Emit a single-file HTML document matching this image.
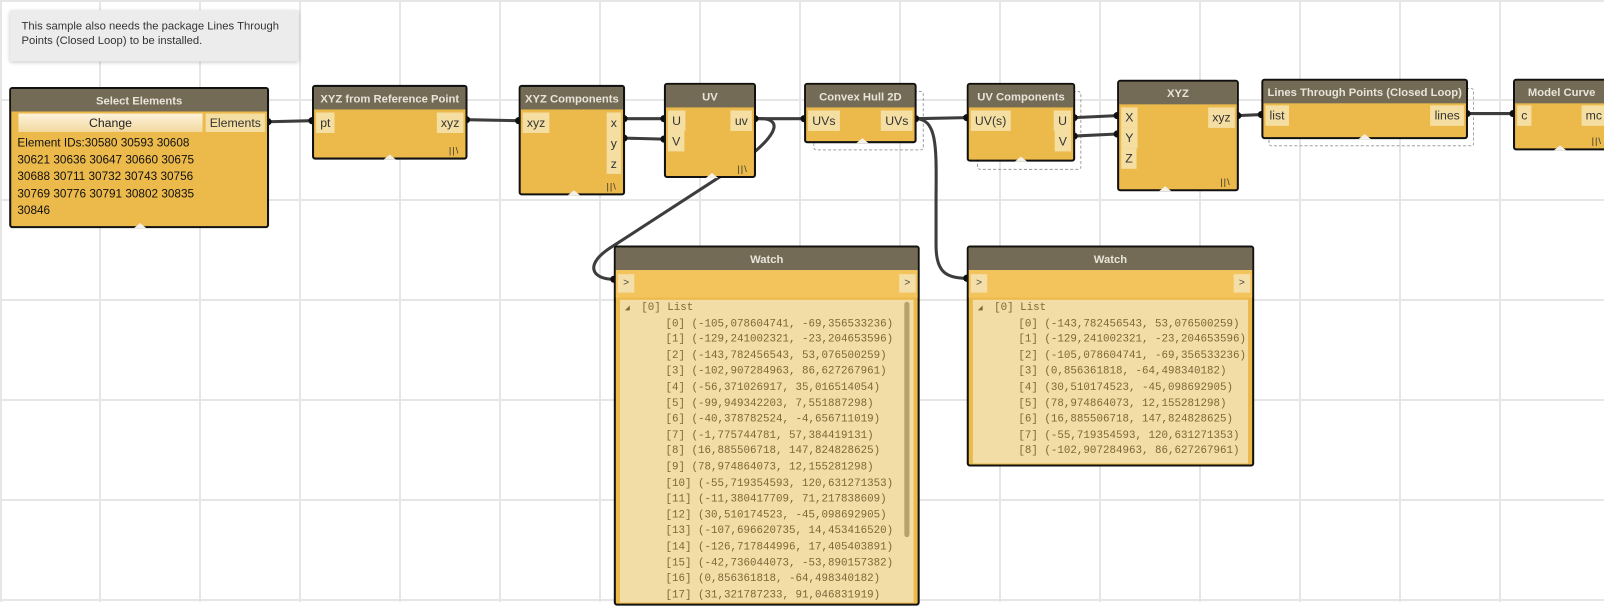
<!DOCTYPE html>
<html><head><meta charset="utf-8">
<style>
html,body{margin:0;padding:0;width:1604px;height:602px;overflow:hidden;background:#fff;}
#grid{position:absolute;left:0;top:0;}
#c{position:absolute;left:0;top:0;width:1568px;height:588px;transform:scale(1.023);transform-origin:0 0;font-family:"Liberation Sans","DejaVu Sans",sans-serif;}
.n{position:absolute;background:#ecb94b;border:2px solid #111;border-radius:3px;box-sizing:border-box;}
.h{background:#746b56;color:#e8e4da;font-weight:bold;font-size:11px;text-align:center;height:20px;line-height:21px;white-space:nowrap;overflow:hidden;}
.p{position:absolute;background:#f5dea2;color:#333;font-size:12px;height:17px;line-height:17px;padding:0 4px;}
.tri{position:absolute;bottom:-2px;width:0;height:0;border-left:6px solid transparent;border-right:6px solid transparent;border-bottom:5px solid #f4f0e6;margin-left:-6px;}
.lac{position:absolute;right:6px;bottom:2px;font-size:9px;color:#333;letter-spacing:1px;}
.g{position:absolute;border:1.5px dashed #9a9a9a;border-radius:3px;box-sizing:border-box;}
.w{position:absolute;background:#ecb94b;border:2px solid #111;border-radius:3px;box-sizing:border-box;}
.wi{background:#f4c45c;height:27px;position:relative;}
.wb{position:absolute;background:#f4dfa8;color:#444;font-size:10px;width:16px;height:18px;line-height:18px;text-align:center;top:4px;}
.ls{position:absolute;background:#f3dda6;font-family:"Liberation Mono","DejaVu Sans Mono",monospace;font-size:10.6px;color:#7a6838;line-height:15.6px;white-space:pre;overflow:hidden;}
</style></head><body>
<svg id="grid" width="1604" height="602">
<g stroke="#e6e6e6" stroke-width="2">
<line x1="100" y1="0" x2="100" y2="602"/><line x1="200" y1="0" x2="200" y2="602"/><line x1="300" y1="0" x2="300" y2="602"/><line x1="400" y1="0" x2="400" y2="602"/><line x1="500" y1="0" x2="500" y2="602"/><line x1="600" y1="0" x2="600" y2="602"/><line x1="700" y1="0" x2="700" y2="602"/><line x1="800" y1="0" x2="800" y2="602"/><line x1="900" y1="0" x2="900" y2="602"/><line x1="1000" y1="0" x2="1000" y2="602"/><line x1="1100" y1="0" x2="1100" y2="602"/><line x1="1200" y1="0" x2="1200" y2="602"/><line x1="1300" y1="0" x2="1300" y2="602"/><line x1="1400" y1="0" x2="1400" y2="602"/><line x1="1500" y1="0" x2="1500" y2="602"/><line x1="1" y1="0" x2="1" y2="602"/>
<line x1="0" y1="100" x2="1604" y2="100"/><line x1="0" y1="200" x2="1604" y2="200"/><line x1="0" y1="300" x2="1604" y2="300"/><line x1="0" y1="400" x2="1604" y2="400"/><line x1="0" y1="500" x2="1604" y2="500"/><line x1="0" y1="600" x2="1604" y2="600"/><line x1="0" y1="1" x2="1604" y2="1"/>
</g></svg>
<div id="c">
<div style="position:absolute;left:10px;top:10px;width:282px;height:50px;background:#ececec;box-shadow:0 1px 4px rgba(0,0,0,0.25);font-size:11px;color:#333;padding:9px 0 0 11px;box-sizing:border-box;line-height:14px;white-space:nowrap;overflow:hidden;">This sample also needs the package Lines Through<br>Points (Closed Loop) to be installed.</div>

<div class="g" style="left:795px;top:89px;width:108px;height:58px"></div>
<div class="g" style="left:955px;top:89px;width:102px;height:77px"></div>
<div class="g" style="left:1240px;top:86px;width:201px;height:57px"></div>

<svg style="position:absolute;left:0;top:0" width="1568" height="588">
<g stroke="#3d3d3d" stroke-width="3" fill="none">
<path d="M262,119 L305,118"/>
<path d="M456,117 L507,118"/>
<path d="M610,116 L649,116"/>
<path d="M610,135 L649,136"/>
<path d="M738,116 L786,116"/>
<path d="M738,116 C770,114 762,135 705,172 L600,240 C570,258 578,273 600,273"/>
<path d="M895,116 L945,115"/>
<path d="M895,116 C918,116 915,150 915,200 L915,240 C915,266 925,272 945,272"/>
<path d="M1050,115 L1092,113"/>
<path d="M1050,133 L1092,131"/>
<path d="M1210,113 L1233,112"/>
<path d="M1434,111 L1479,111"/>
</g>
<g fill="#111">
<circle cx="262" cy="119" r="3.5"/><circle cx="305" cy="118" r="3.5"/><circle cx="456" cy="117" r="3.5"/><circle cx="507" cy="118" r="3.5"/>
<circle cx="610" cy="116" r="3.5"/><circle cx="610" cy="135" r="3.5"/><circle cx="649" cy="116" r="3.5"/><circle cx="649" cy="136" r="3.5"/>
<circle cx="738" cy="116" r="3.5"/><circle cx="786" cy="116" r="3.5"/><circle cx="895" cy="116" r="3.5"/><circle cx="945" cy="115" r="3.5"/>
<circle cx="1050" cy="115" r="3.5"/><circle cx="1050" cy="133" r="3.5"/><circle cx="1092" cy="113" r="3.5"/><circle cx="1092" cy="131" r="3.5"/>
<circle cx="1210" cy="113" r="3.5"/><circle cx="1233" cy="112" r="3.5"/><circle cx="1434" cy="111" r="3.5"/><circle cx="1479" cy="111" r="3.5"/>
<circle cx="600" cy="273" r="3.5"/><circle cx="945" cy="272" r="3.5"/>
</g></svg>

<div class="n" style="left:9px;top:85px;width:254px;height:138px">
<div class="h" style="height:22px;line-height:24px">Select Elements</div>
<div style="position:absolute;left:7px;top:24px;width:180px;height:18px;background:linear-gradient(#fdf3dc,#f2d9a0);font-size:12px;text-align:center;line-height:18px;color:#222">Change</div>
<div class="p" style="left:190px;top:24px;height:18px;line-height:18px">Elements</div>
<div style="position:absolute;left:6px;top:45px;font-size:11.5px;line-height:16.5px;color:#111;width:200px">Element IDs:30580 30593 30608 30621 30636 30647 30660 30675 30688 30711 30732 30743 30756 30769 30776 30791 30802 30835 30846</div>
<div class="tri" style="left:126px"></div>
</div>

<div class="n" style="left:305px;top:83px;width:152px;height:73px">
<div class="h" style="height:22px;line-height:24px">XYZ from Reference Point</div>
<div class="p" style="left:2px;top:25px;height:20px;line-height:20px">pt</div>
<div class="p" style="right:2px;top:25px;height:20px;line-height:20px">xyz</div>
<div class="lac">||\</div><div class="tri" style="left:74px"></div>
</div>

<div class="n" style="left:507px;top:83px;width:104px;height:108px">
<div class="h" style="height:22px;line-height:24px">XYZ Components</div>
<div class="p" style="left:2px;top:25px;height:20px;line-height:20px">xyz</div>
<div class="p" style="right:2px;top:25px;height:20px;line-height:20px">x</div>
<div class="p" style="right:2px;top:45px;height:20px;line-height:20px">y</div>
<div class="p" style="right:2px;top:65px;height:20px;line-height:20px">z</div>
<div class="lac">||\</div><div class="tri" style="left:52px"></div>
</div>

<div class="n" style="left:649px;top:81px;width:90px;height:93px">
<div class="h" style="height:22px;line-height:24px">UV</div>
<div class="p" style="left:2px;top:25px;height:20px;line-height:20px">U</div>
<div class="p" style="left:2px;top:45px;height:20px;line-height:20px">V</div>
<div class="p" style="right:2px;top:25px;height:20px;line-height:20px">uv</div>
<div class="lac">||\</div><div class="tri" style="left:45px"></div>
</div>

<div class="n" style="left:786px;top:81px;width:110px;height:59px">
<div class="h" style="height:22px;line-height:24px">Convex Hull 2D</div>
<div class="p" style="left:2px;top:25px;height:20px;line-height:20px">UVs</div>
<div class="p" style="right:2px;top:25px;height:20px;line-height:20px">UVs</div>
<div class="tri" style="left:55px"></div>
</div>

<div class="n" style="left:945px;top:81px;width:106px;height:77px">
<div class="h" style="height:22px;line-height:24px">UV Components</div>
<div class="p" style="left:2px;top:25px;height:20px;line-height:20px">UV(s)</div>
<div class="p" style="right:2px;top:25px;height:20px;line-height:20px">U</div>
<div class="p" style="right:2px;top:45px;height:20px;line-height:20px">V</div>
<div class="tri" style="left:51px"></div>
</div>

<div class="n" style="left:1092px;top:78px;width:119px;height:109px">
<div class="h" style="height:22px;line-height:24px">XYZ</div>
<div class="p" style="left:2px;top:25px;height:20px;line-height:20px">X</div>
<div class="p" style="left:2px;top:45px;height:20px;line-height:20px">Y</div>
<div class="p" style="left:2px;top:65px;height:20px;line-height:20px">Z</div>
<div class="p" style="right:2px;top:25px;height:20px;line-height:20px">xyz</div>
<div class="lac">||\</div><div class="tri" style="left:45px"></div>
</div>

<div class="n" style="left:1233px;top:77px;width:202px;height:59px">
<div class="h" style="height:22px;line-height:24px">Lines Through Points (Closed Loop)</div>
<div class="p" style="left:2px;top:24px;height:20px;line-height:20px">list</div>
<div class="p" style="right:2px;top:24px;height:20px;line-height:20px">lines</div>
<div class="tri" style="left:99px"></div>
</div>

<div class="n" style="left:1479px;top:77px;width:95px;height:70px">
<div class="h" style="height:22px;line-height:24px">Model Curve</div>
<div class="p" style="left:2px;top:24px;height:20px;line-height:20px">c</div>
<div class="p" style="right:2px;top:24px;height:20px;line-height:20px">mc</div>
<div class="lac">||\</div><div class="tri" style="left:44px"></div>
</div>

<div class="w" style="left:600px;top:240px;width:299px;height:352px">
<div class="h" style="height:22px;line-height:25px">Watch</div>
<div class="wi"><div class="wb" style="left:2px">&gt;</div><div class="wb" style="right:2px">&gt;</div></div>
<div class="ls" style="left:4px;top:51px;width:287px;height:295px;padding-top:1px"><span style="font-size:8px"> ◢ </span> [0] List
       [0] (-105,078604741, -69,356533236)
       [1] (-129,241002321, -23,204653596)
       [2] (-143,782456543, 53,076500259)
       [3] (-102,907284963, 86,627267961)
       [4] (-56,371026917, 35,016514054)
       [5] (-99,949342203, 7,551887298)
       [6] (-40,378782524, -4,656711019)
       [7] (-1,775744781, 57,384419131)
       [8] (16,885506718, 147,824828625)
       [9] (78,974864073, 12,155281298)
       [10] (-55,719354593, 120,631271353)
       [11] (-11,380417709, 71,217838609)
       [12] (30,510174523, -45,098692905)
       [13] (-107,696620735, 14,453416520)
       [14] (-126,717844996, 17,405403891)
       [15] (-42,736044073, -53,890157382)
       [16] (0,856361818, -64,498340182)
       [17] (31,321787233, 91,046831919)</div>
<div style="position:absolute;left:282px;top:53px;width:5px;height:230px;background:#b8a26c;border-radius:3px"></div>
</div>

<div class="w" style="left:945px;top:240px;width:281px;height:216px">
<div class="h" style="height:22px;line-height:25px">Watch</div>
<div class="wi"><div class="wb" style="left:2px">&gt;</div><div class="wb" style="right:2px">&gt;</div></div>
<div class="ls" style="left:4px;top:51px;width:269px;height:159px;padding-top:1px"><span style="font-size:8px"> ◢ </span> [0] List
       [0] (-143,782456543, 53,076500259)
       [1] (-129,241002321, -23,204653596)
       [2] (-105,078604741, -69,356533236)
       [3] (0,856361818, -64,498340182)
       [4] (30,510174523, -45,098692905)
       [5] (78,974864073, 12,155281298)
       [6] (16,885506718, 147,824828625)
       [7] (-55,719354593, 120,631271353)
       [8] (-102,907284963, 86,627267961)</div>
</div>
</div>
</body></html>
